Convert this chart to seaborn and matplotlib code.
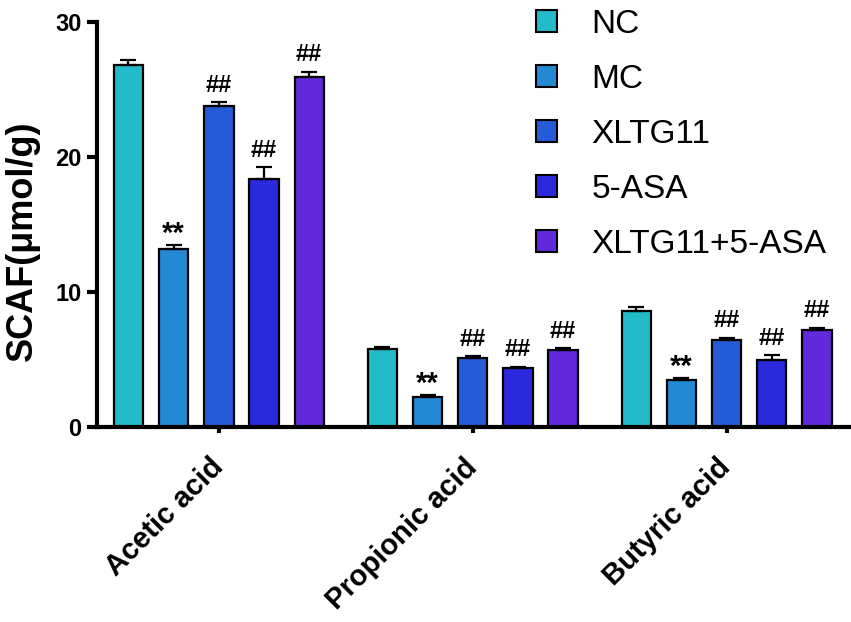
# SCFA content per group, grouped bar chart with SEM and significance marks

import numpy as np
import pandas as pd
import seaborn as sns
import matplotlib.pyplot as plt
from matplotlib.patches import Patch


# Data ........................................................................

acids = ["Acetic acid", "Propionic acid", "Butyric acid"]
groups = ["NC", "MC", "XLTG11", "5-ASA", "XLTG11+5-ASA"]
colors = ["#23BBCA", "#2389D5", "#255BD7", "#2A2ADC", "#6229DC"]

# mean values (acetic, propionic, butyric)
nc_mean = [26.85, 5.8, 8.6]
mc_mean = [13.2, 2.25, 3.45]
xltg_mean = [23.75, 5.1, 6.45]
asa_mean = [18.4, 4.35, 5.0]
combo_mean = [25.95, 5.7, 7.15]

# standard errors
nc_sem = [0.35, 0.15, 0.28]
mc_sem = [0.3, 0.12, 0.2]
xltg_sem = [0.3, 0.13, 0.15]
asa_sem = [0.85, 0.13, 0.32]
combo_sem = [0.35, 0.13, 0.22]

# significance marks per group
marks = ["", "**", "##", "##", "##"]

means = [nc_mean, mc_mean, xltg_mean, asa_mean, combo_mean]
sems = [nc_sem, mc_sem, xltg_sem, asa_sem, combo_sem]

df = pd.DataFrame({
    "acid": acids * len(groups),
    "group": np.repeat(groups, len(acids)),
    "value": np.concatenate(means),
})


# Plot ........................................................................

sns.set_style("ticks")
plt.rcParams["font.family"] = ["Liberation Sans", "DejaVu Sans"]
for key in ["text.color", "axes.labelcolor", "xtick.color", "ytick.color", "axes.edgecolor"]:
    plt.rcParams[key] = "black"

fig = plt.figure(figsize = (8.51, 6.22), dpi = 100)
ax = fig.add_axes([97 / 851, 1 - 427 / 622, 1 - 97 / 851, 405 / 622])

sns.barplot(data = df, x = "acid", y = "value", hue = "group",
            order = acids, hue_order = groups, palette = colors,
            width = 0.89, gap = 0.35, edgecolor = "black", linewidth = 1.6,
            errorbar = None, legend = False, saturation = 1, ax = ax)

# error bars (upper only) and marks
for cont, sem, mark in zip(ax.containers, sems, marks):
    xs = [b.get_x() + b.get_width() / 2 for b in cont]
    tops = [b.get_height() for b in cont]
    ax.errorbar(xs, tops, yerr = [np.zeros(len(sem)), sem], fmt = "none",
                ecolor = "black", elinewidth = 1.6, capsize = 5.5,
                capthick = 1.6, zorder = 3)
    if mark:
        size = 21 if mark == "**" else 17
        off = -2 if mark == "**" else 4
        for x, t, s in zip(xs, tops, sem):
            ax.annotate(mark, (x, t + s), xytext = (0, off),
                        textcoords = "offset points", ha = "center",
                        va = "bottom", fontsize = size, fontweight = "bold")

ax.set_ylim(0, 30)
ax.set_xlim(-0.48, 2.49)
ax.set_yticks([0, 10, 20, 30])
ax.set_xlabel("")
ax.set_ylabel("SCAF(μmol/g)", fontsize = 26, fontweight = "bold")
ax.yaxis.set_label_coords(-0.076, 0.46)

sns.despine(ax = ax)
for side in ["left", "bottom"]:
    ax.spines[side].set_linewidth(3)
ax.tick_params(axis = "y", length = 7, width = 3, labelsize = 17, pad = 4)
ax.tick_params(axis = "x", length = 4, width = 3, labelsize = 21, pad = 22)
for lab in ax.get_yticklabels():
    lab.set_fontweight("bold")
for lab in ax.get_xticklabels():
    lab.set_fontweight("bold")
    lab.set_rotation(45)
    lab.set_ha("right")
    lab.set_va("center")
    lab.set_rotation_mode("anchor")

# legend
handles = [Patch(facecolor = c, edgecolor = "black", linewidth = 1.5) for c in colors]
fig.legend(handles, groups, loc = "upper left",
           bbox_to_anchor = (536 / 851, 1 - 9 / 622), frameon = False,
           fontsize = 24, handlelength = 0.62, handleheight = 0.62,
           handletextpad = 1.05, labelspacing = 0.72, borderpad = 0,
           borderaxespad = 0)

plt.savefig("out.png", dpi = 100)
